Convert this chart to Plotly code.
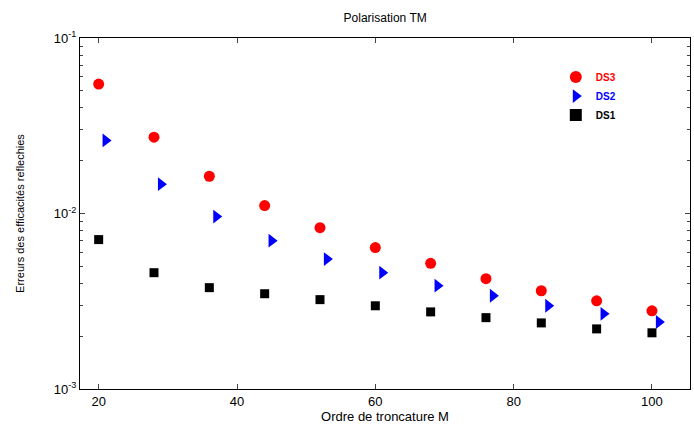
import plotly.graph_objects as go

ordre = [20, 28, 36, 44, 52, 60, 68, 76, 84, 92, 100]
ordre_ds2 = [21, 29, 37, 45, 53, 61, 69, 77, 85, 93, 101]
ds3 = [0.0546, 0.0272, 0.0163, 0.0111, 0.0083, 0.0064, 0.0052, 0.00425, 0.00363, 0.00318, 0.00279]
ds2 = [0.0261, 0.0147, 0.0096, 0.0070, 0.0055, 0.0046, 0.00388, 0.0034, 0.00298, 0.00268, 0.00241]
ds1 = [0.0071, 0.0046, 0.00378, 0.00349, 0.00323, 0.00298, 0.00275, 0.00255, 0.00238, 0.0022, 0.00209]
ytick_vals = [1e-3, 1e-2, 1e-1]
ytick_text = ["10<sup>-3</sup>", "10<sup>-2</sup>", "10<sup>-1</sup>"]
xtick_vals = [20, 40, 60, 80, 100]
minor_vals = [m * 10 ** e for e in (-3, -2) for m in range(2, 10)]

fig = go.Figure()
fig.add_trace(go.Scatter(x=ordre, y=ds3, mode="markers",
                         name="<b><span style='color:#ff0000'>DS3</span></b>",
                         marker=dict(symbol="circle", size=11, color="#ff0000")))
fig.add_trace(go.Scatter(x=ordre_ds2, y=ds2, mode="markers",
                         name="<b><span style='color:#0000ff'>DS2</span></b>",
                         marker=dict(symbol="triangle-right", size=12, color="#0000ff")))
fig.add_trace(go.Scatter(x=ordre, y=ds1, mode="markers",
                         name="<b><span style='color:#000000'>DS1</span></b>",
                         marker=dict(symbol="square", size=9, color="#000000")))

fig.update_layout(
    width=694, height=426,
    margin=dict(l=80, r=4, t=38, b=37),
    paper_bgcolor="white", plot_bgcolor="white",
    font=dict(family="Liberation Sans, Arial, sans-serif", size=12, color="black"),
    title=dict(text="Polarisation TM", x=0.555, xanchor="center", y=0.958, yanchor="middle",
               font=dict(size=12)),
    showlegend=True,
    legend=dict(x=0.78, y=0.93, xanchor="left", yanchor="top",
                bgcolor="rgba(0,0,0,0)", font=dict(size=10), tracegroupgap=2,
                itemsizing="constant"),
    xaxis=dict(range=[17.3, 105.5], tickvals=xtick_vals, ticks="inside", ticklen=5,
               showgrid=False, zeroline=False, showline=True, linecolor="black",
               linewidth=1, mirror="ticks",
               title=dict(text="Ordre de troncature M", font=dict(size=13), standoff=4),
               tickfont=dict(size=13)),
    yaxis=dict(type="log", range=[-3, -1], tickvals=ytick_vals, ticktext=ytick_text,
               ticks="inside", ticklen=5, showgrid=False, zeroline=False, showline=True,
               linecolor="black", linewidth=1, mirror="ticks",
               minor=dict(ticks="inside", ticklen=3, showgrid=False, tickvals=minor_vals),
               title=dict(text="Erreurs des efficacités reflechies", font=dict(size=11), standoff=26),
               tickfont=dict(size=13)),
)

fig.write_html("out.html")
